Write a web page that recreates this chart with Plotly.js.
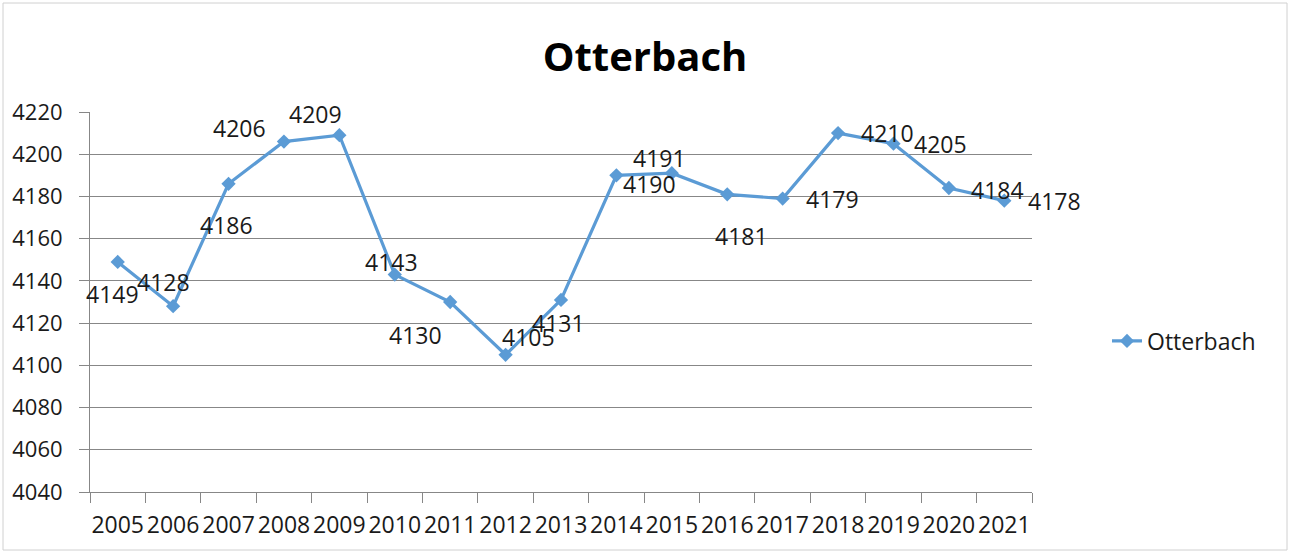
<!DOCTYPE html>
<html>
<head>
<meta charset="utf-8">
<script src="https://cdn.plot.ly/plotly-3.0.1.min.js"></script>
<style>
  html, body { margin: 0; padding: 0; background: #ffffff; }
  #chart { width: 1290px; height: 553px; }
</style>
</head>
<body>
<div id="chart"></div>
<script>
// Data
const years = ["2005","2006","2007","2008","2009","2010","2011","2012","2013","2014","2015","2016","2017","2018","2019","2020","2021"];
const population = [4149, 4128, 4186, 4206, 4209, 4143, 4130, 4105, 4131, 4190, 4191, 4181, 4179, 4210, 4205, 4184, 4178];
const seriesName = "Otterbach";
const yTicks = [4040, 4060, 4080, 4100, 4120, 4140, 4160, 4180, 4200, 4220];

// Label offsets in pixels (dx right, dy down) - placement style only
const labelDx = [-5, -10, -2, -44, -24, -3, -35, 23, -3, 33, -12, 14, 50, 49, 47, 49, 50];
const labelDy = [32, -24, 41, -14, -21, -13, 33, -18, 23, 9, -15, 42, 0, 0, 0, 2, 0];

const FONT = "'Open Sans', 'Liberation Sans', sans-serif";
const TXT = "#1a1a1a";
const GRID = "#878787";
const BLUE = "#5B9BD5";

const trace = {
  type: "scatter",
  mode: "lines+markers",
  name: seriesName,
  x: years,
  y: population,
  line: { color: BLUE, width: 3.2 },
  marker: { symbol: "diamond", size: 11, color: BLUE },
  cliponaxis: false
};

// category axis: annotation x given as the category's serial index
const annotations = years.map((yr, i) => ({
  x: i,
  y: population[i],
  xref: "x",
  yref: "y",
  text: String(population[i]),
  showarrow: false,
  xshift: labelDx[i],
  yshift: -labelDy[i],
  font: { family: FONT, size: 23, color: TXT }
}));

const layout = {
  width: 1290,
  height: 553,
  margin: { l: 90, r: 258, t: 112, b: 61 },
  paper_bgcolor: "#ffffff",
  plot_bgcolor: "#ffffff",
  font: { family: FONT, size: 22, color: TXT },
  title: {
    text: "<b>Otterbach</b>",
    font: { family: FONT, size: 40, color: "#000000" },
    x: 0.5, xanchor: "center", xref: "container",
    y: 1 - 57 / 553, yanchor: "middle", yref: "container"
  },
  xaxis: {
    type: "category",
    range: [-0.5, years.length - 0.5],
    showgrid: false,
    showline: true, linecolor: GRID, linewidth: 1,
    ticks: "outside", ticklen: 10, tickcolor: GRID, tickwidth: 1,
    tickson: "boundaries",
    tickangle: 0,
    tickfont: { family: FONT, size: 23, color: TXT },
    ticklabelstandoff: 12,
    zeroline: false,
    fixedrange: true
  },
  yaxis: {
    range: [4040, 4220],
    tickvals: yTicks,
    ticktext: yTicks.map(String),
    showgrid: true, gridcolor: GRID, gridwidth: 1,
    showline: true, linecolor: GRID, linewidth: 1,
    ticks: "outside", ticklen: 10, tickcolor: GRID, tickwidth: 1,
    tickfont: { family: FONT, size: 22, color: TXT },
    ticklabelstandoff: 12,
    zeroline: false,
    fixedrange: true
  },
  showlegend: true,
  legend: {
    x: (1107 - 90) / 942, xanchor: "left",
    y: (492 - 341) / 380, yanchor: "middle",
    font: { family: FONT, size: 23, color: TXT },
    bgcolor: "rgba(0,0,0,0)",
    borderwidth: 0
  },
  annotations: annotations,
  shapes: [{
    type: "rect", xref: "paper", yref: "paper",
    x0: (3 - 90) / 942, x1: (1287 - 90) / 942,
    y0: (492 - 550) / 380, y1: (492 - 3) / 380,
    line: { color: "#d0d0d0", width: 1 },
    fillcolor: "rgba(0,0,0,0)",
    layer: "below"
  }]
};

Plotly.newPlot("chart", [trace], layout, { displayModeBar: false, staticPlot: true });
</script>
</body>
</html>
